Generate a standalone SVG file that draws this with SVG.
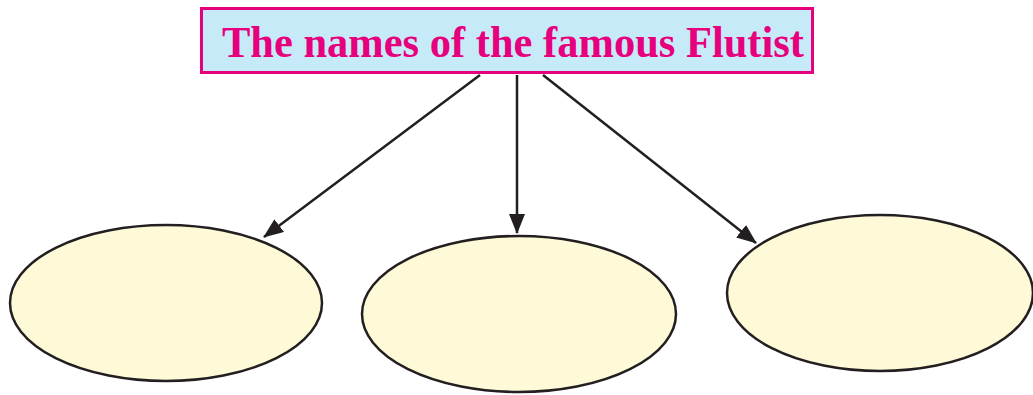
<svg xmlns="http://www.w3.org/2000/svg" width="1033" height="395" viewBox="0 0 1033 395">
<style>
.ell{fill:#FEF9D7;stroke:#231F20;stroke-width:2.5}
.con{stroke:#231F20;stroke-width:2.5;fill:none;marker-end:url(#ah)}
.title{font-family:"Liberation Serif",serif;font-weight:bold;font-size:45px;fill:#E6007E}
</style>
<defs>
<marker id="ah" viewBox="0 0 20 16" refX="19" refY="8" markerWidth="20" markerHeight="16" orient="auto" markerUnits="userSpaceOnUse">
<path d="M0,0 L20,8 L0,16 Z" fill="#231F20"/>
</marker>
</defs>
<g id="title-node">
<rect x="201.5" y="8.5" width="611" height="64" fill="#C7EAF8" stroke="#E6007E" stroke-width="3"/>
<text class="title" x="222" y="57" textLength="582" lengthAdjust="spacingAndGlyphs">The names of the famous Flutist</text>
</g>
<g id="connectors">
<line class="con" x1="480" y1="75" x2="264" y2="237"/>
<line class="con" x1="517" y1="75" x2="517" y2="233"/>
<line class="con" x1="543" y1="75" x2="756" y2="243"/>
</g>
<g id="node-left"><ellipse class="ell" cx="166" cy="303" rx="156" ry="78"/></g>
<g id="node-middle"><ellipse class="ell" cx="519" cy="314" rx="157" ry="78"/></g>
<g id="node-right"><ellipse class="ell" cx="880" cy="293" rx="153" ry="78"/></g>
</svg>
